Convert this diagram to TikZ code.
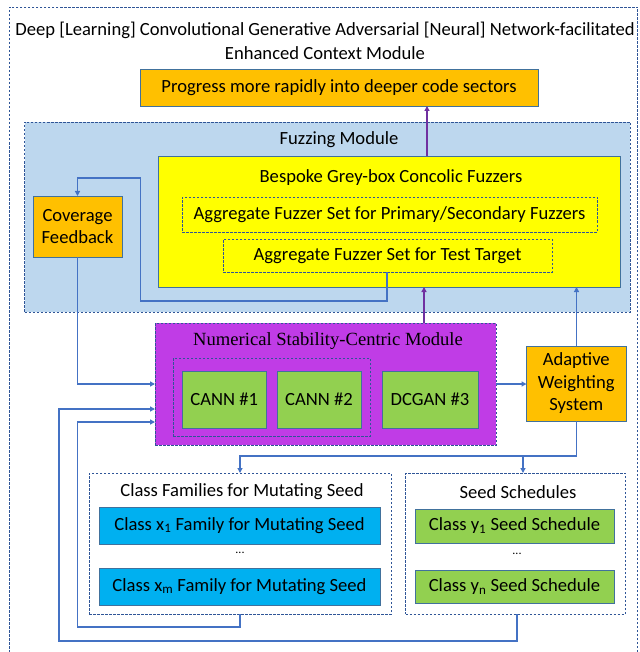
\documentclass[tikz,border=0pt]{standalone}
\usepackage{fontspec}
\setmainfont{Carlito}
\newfontfamily\timesf{Liberation Serif}
\usetikzlibrary{arrows.meta}
\definecolor{orng}{HTML}{FFC000}
\definecolor{bord}{HTML}{41719C}
\definecolor{dashc}{HTML}{2F5597}
\definecolor{lblue}{HTML}{BDD7EE}
\definecolor{yell}{HTML}{FFFF00}
\definecolor{purp}{HTML}{C03CE6}
\definecolor{grn}{HTML}{92D050}
\definecolor{cyanb}{HTML}{00B0F0}
\definecolor{ablue}{HTML}{4472C4}
\definecolor{apurp}{HTML}{7030A0}
\tikzset{
  every node/.style={font=\fontsize{18.6}{22.5}\selectfont, inner sep=0pt, outer sep=0pt},
  solidbox/.style={draw=bord, line width=0.9pt, minimum width=#1},
  dbox/.style={draw=dashc, dashed, dash pattern=on 2.5pt off 1.5pt, line width=0.8pt},
  barrow/.style={draw=ablue, line width=1.4pt, -{Triangle[length=5pt,width=5pt]}},
  parrow/.style={draw=apurp, line width=1.4pt, -{Triangle[length=5pt,width=5pt]}},
}
\begin{document}
\begin{tikzpicture}[x=1pt,y=-1pt]
\useasboundingbox (0,0) rectangle (639,652);
% outer
\node[dbox, minimum width=628pt, minimum height=645pt] (outer) at (323.5,329.5) {};
\node[align=center, font=\fontsize{18.6}{24}\selectfont] (title) at (325,41) {Deep [Learning] Convolutional Generative Adversarial [Neural] Network-facilitated\\Enhanced Context Module};
% progress
\node[solidbox=398pt, fill=orng, minimum height=37pt] (prog) at (339,87.5) {Progress more rapidly into deeper code sectors};
% fuzzing module
\node[dbox, fill=lblue, minimum width=605.5pt, minimum height=190pt] (fuzz) at (327.25,217) {};
\node (fuzzt) at (339,140) {Fuzzing Module};
\node[solidbox=462pt, fill=yell, minimum height=131pt] (yellow) at (389,221.5) {};
\node (yellowt) at (391,178) {Bespoke Grey-box Concolic Fuzzers};
\node[dbox, minimum width=415pt, minimum height=35pt] (aggp) at (389.5,214.5) {Aggregate Fuzzer Set for Primary/Secondary Fuzzers};
\node[dbox, minimum width=329pt, minimum height=33pt] (aggt) at (387.5,255.5) {Aggregate Fuzzer Set for Test Target};
\node[solidbox=89pt, fill=orng, minimum height=61pt, align=center] (cov) at (77.5,226.5) {Coverage\\Feedback};
% numerical module
\node[dbox, fill=purp, minimum width=341pt, minimum height=122pt] (pm) at (325.5,384) {};
\node[font=\timesf\fontsize{18.6}{20}\selectfont] (pmt) at (328,341) {Numerical Stability-Centric Module};
\node[dbox, minimum width=197pt, minimum height=78pt] (inner) at (271.5,397) {};
\node[solidbox=84.5pt, fill=grn, minimum height=57pt] (c1) at (224.25,399.5) {CANN \#1};
\node[solidbox=84pt, fill=grn, minimum height=57pt] (c2) at (319,399.5) {CANN \#2};
\node[solidbox=96pt, fill=grn, minimum height=57pt] (dc) at (430,399.5) {DCGAN \#3};
\node[solidbox=99.5pt, fill=orng, minimum height=75pt, align=center] (adapt) at (576.25,383.5) {Adaptive\\Weighting\\System};
% class families
\node[dbox, minimum width=302pt, minimum height=141pt] (fam) at (240,543.5) {};
\node (famt) at (242,492) {Class Families for Mutating Seed};
\node[solidbox=281pt, fill=cyanb, minimum height=37pt] (x1) at (239.5,525.5) {Class x\textsubscript{1} Family for Mutating Seed};
\node[font=\fontsize{12}{14}\selectfont] (xdots) at (240,553) {...};
\node[solidbox=281pt, fill=cyanb, minimum height=37pt] (xm) at (239.5,586.5) {Class x\textsubscript{m} Family for Mutating Seed};
% seed schedules
\node[dbox, minimum width=220pt, minimum height=141pt] (seed) at (515.5,543.5) {};
\node (seedt) at (518,492) {Seed Schedules};
\node[solidbox=199pt, fill=grn, minimum height=34pt] (y1) at (514.5,526) {Class y\textsubscript{1} Seed Schedule};
\node[font=\fontsize{12}{14}\selectfont] (ydots) at (517,554) {...};
\node[solidbox=199pt, fill=grn, minimum height=33pt] (yn) at (514.5,587) {Class y\textsubscript{n} Seed Schedule};
% helper coordinates
\coordinate (c427) at (427,0);
\coordinate (c424) at (424,0);
\coordinate (c577) at (576.5,0);
\coordinate (c387) at (387,0);
\coordinate (c240) at (240,0);
\coordinate (c523) at (523,0);
\coordinate (c517) at (517,0);
% connectors
\draw[parrow] (c427 |- yellow.north) -- (c427 |- prog.south);
\draw[parrow] (c424 |- pm.north) -- (c424 |- yellow.south);
\draw[barrow] (c577 |- adapt.north) -- (c577 |- yellow.south);
\draw[barrow] (c387 |- aggt.south) -- (387,301) -- (140.5,301) -- (140.5,178) -- (77.5,178) -- (cov.north);
\draw[barrow] (cov.south) -- (77.5,384) -- (pm.west |- 0,384);
\draw[barrow] (pm.east |- 0,384) -- (adapt.west |- 0,384);
\draw[barrow] (c577 |- adapt.south) -- (576.5,456) -- (240,456) -- (c240 |- fam.north);
\draw[barrow] (523,456) -- (c523 |- seed.north);
\draw[barrow] (c240 |- fam.south) -- (240,627) -- (77.5,627) -- (77.5,422) -- (pm.west |- 0,422);
\draw[barrow] (c517 |- seed.south) -- (517,641) -- (59,641) -- (59,409) -- (pm.west |- 0,409);
\end{tikzpicture}
\end{document}
